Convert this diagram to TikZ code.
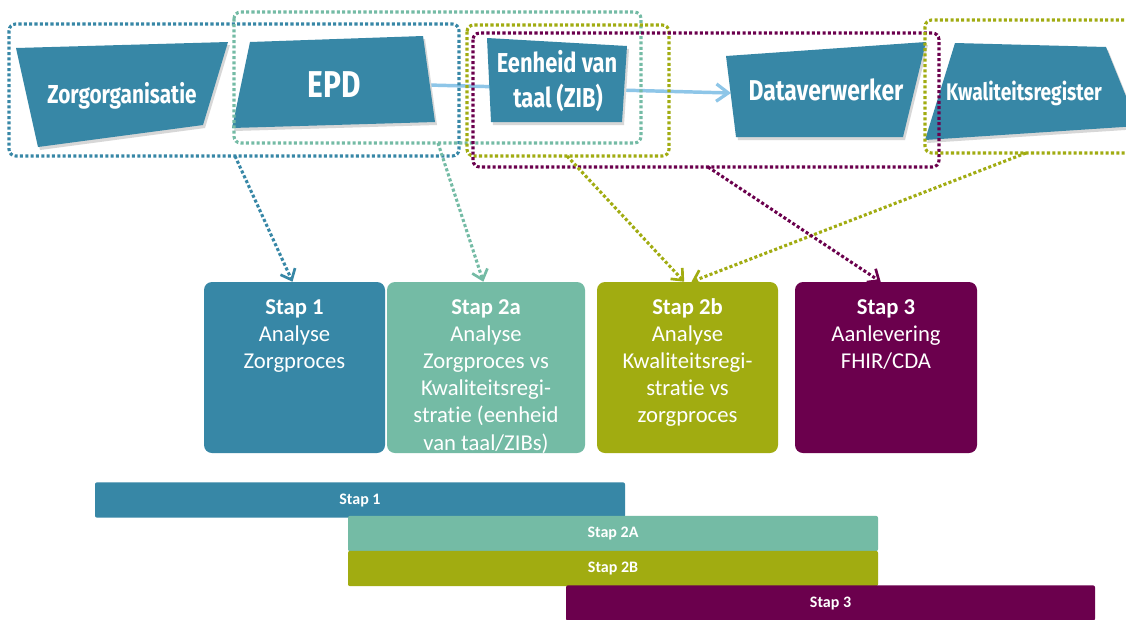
\documentclass[tikz,border=0pt]{standalone}
\usepackage{fontspec}
\setmainfont{Carlito}[Ligatures=NoCommon]
\newfontfamily\condfont{Fira Sans}[FakeStretch=0.8]
\usetikzlibrary{arrows.meta}
\definecolor{cBlue}{RGB}{55,135,166}
\definecolor{cTeal}{RGB}{116,187,165}
\definecolor{cOlive}{RGB}{161,172,17}
\definecolor{cPurple}{RGB}{107,0,77}
\definecolor{cLight}{RGB}{142,198,232}
\definecolor{cShadow}{RGB}{215,215,215}
\begin{document}
\begin{tikzpicture}[x=0.75pt,y=-0.75pt,
  toplabel/.style={text=white, inner sep=0pt, anchor=base},
  dotbox/.style={line width=2.3pt, dash pattern=on 2.3pt off 1.7pt, rounded corners=5pt},
  dotarrow/.style={line width=2.3pt, dash pattern=on 2.3pt off 1.7pt,
    -{Straight Barb[length=7pt,width=12pt,line width=2pt]}},
  flowarrow/.style={draw=cLight, line width=2.6pt,
    -{Straight Barb[length=9pt,width=13pt,line width=2.4pt]}},
  stepbox/.style={rounded corners=6pt, minimum height=128.25pt, inner sep=0pt, draw=none},
  steptext/.style={text=white, align=center, inner sep=0pt, anchor=north,
    font=\fontsize{17}{20.4}\selectfont},
  barbox/.style={rounded corners=1.5pt, minimum height=26.5pt, inner sep=0pt,
    text=white, font=\fontsize{12}{14}\selectfont\bfseries},
]
\clip (0,0) rectangle (1126,619);
\fill[white] (0,0) rectangle (1126,619);

% flow arrow (behind the shapes)
\coordinate (flowStart) at (428,85);
\coordinate (flowEnd) at (731,93);
\draw[flowarrow] (flowStart) -- (flowEnd);

% shadows
\begin{scope}[shift={(2,3)}]
\fill[cShadow] (16,48) -- (228,42) -- (203,125) -- (38,147) -- cycle;
\fill[cShadow] (250,42) -- (423,36) -- (435,122) -- (232,128) -- cycle;
\fill[cShadow] (487,38) -- (627,46) -- (622,122) -- (491,122) -- cycle;
\fill[cShadow] (726,56) -- (926,42) -- (903,137) -- (736,137) -- cycle;
\fill[cShadow] (955,43) -- (1106,47) -- (1138,126) -- (925,140) -- cycle;
\end{scope}
% shapes
\fill[cBlue] (16,48) -- (228,42) -- (203,125) -- (38,147) -- cycle;
\fill[cBlue] (250,42) -- (423,36) -- (435,122) -- (232,128) -- cycle;
\fill[cBlue] (487,38) -- (627,46) -- (622,122) -- (491,122) -- cycle;
\fill[cBlue] (726,56) -- (926,42) -- (903,137) -- (736,137) -- cycle;
\fill[cBlue] (955,43) -- (1106,47) -- (1138,126) -- (925,140) -- cycle;

\node[toplabel, font=\condfont\bfseries\fontsize{19.5}{22}\selectfont] (zorg) at (122,103) {Zorgorganisatie};
\node[toplabel, font=\condfont\bfseries\fontsize{28}{32}\selectfont] (epd) at (334,97) {EPD};
\node[toplabel, font=\condfont\bfseries\fontsize{20.5}{24}\selectfont] (zibA) at (557,72) {Eenheid van};
\node[toplabel, font=\condfont\bfseries\fontsize{20.5}{24}\selectfont] (zibB) at (558,107) {taal (ZIB)};
\node[toplabel, font=\condfont\bfseries\fontsize{21.5}{24}\selectfont] (dv) at (826,100) {Dataverwerker};
\node[toplabel, font=\condfont\bfseries\fontsize{18}{22}\selectfont] (kr) at (1024,100) {Kwaliteitsregister};

% dotted grouping boxes
\draw[dotbox, cBlue] (9,24) rectangle (459,156);
\draw[dotbox, cTeal] (234,12) rectangle (641,143);
\draw[dotbox, cOlive] (467,25) rectangle (669,156);
\draw[dotbox, cPurple] (473,33) rectangle (939,167);
\draw[dotbox, cOlive] (925,20) rectangle (1150,153);

% step boxes
\node[stepbox, fill=cBlue, minimum width=135.75pt] (s1) at (294.5,367.5) {};
\node[stepbox, fill=cTeal, minimum width=148.5pt] (s2a) at (486,367.5) {};
\node[stepbox, fill=cOlive, minimum width=135.75pt] (s2b) at (687.5,367.5) {};
\node[stepbox, fill=cPurple, minimum width=136.5pt] (s3) at (886,367.5) {};

\node[steptext] (t1) at ([yshift=-9.75pt]s1.north) {\strut\textbf{Stap 1}\\Analyse\\Zorgproces};
\node[steptext] (t2a) at ([yshift=-9.75pt]s2a.north) {\strut\textbf{Stap 2a}\\Analyse\\Zorgproces vs\\Kwaliteitsregi-\\stratie (eenheid\\van taal/ZIBs)};
\node[steptext] (t2b) at ([yshift=-9.75pt]s2b.north) {\strut\textbf{Stap 2b}\\Analyse\\Kwaliteitsregi-\\stratie vs\\zorgproces};
\node[steptext] (t3) at ([yshift=-9.75pt]s3.north) {\strut\textbf{Stap 3}\\Aanlevering\\FHIR/CDA};

% dotted arrows
\coordinate (aBlue) at (235,156);
\coordinate (aTeal) at (438,143);
\coordinate (aOliveA) at (567,156);
\coordinate (aOliveB) at (1026,153);
\coordinate (aPurple) at (708,167);
\draw[dotarrow, cBlue] (aBlue) -- ([xshift=-1.5pt]s1.north);
\draw[dotarrow, cTeal] (aTeal) -- ([xshift=-2pt]s2a.north);
\draw[dotarrow, cOlive] (aOliveA) -- ([xshift=-2.5pt]s2b.north);
\draw[dotarrow, cOlive] (aOliveB) -- ([xshift=3pt]s2b.north);
\draw[dotarrow, cPurple] (aPurple) -- ([xshift=-4pt]s3.north);

% timeline bars
\node[barbox, fill=cBlue, minimum width=397.5pt] (bar1) at (360,500) {Stap 1};
\node[barbox, fill=cTeal, minimum width=397.5pt] (bar2a) at (613,533.5) {Stap 2A};
\node[barbox, fill=cOlive, minimum width=397.5pt] (bar2b) at (613,568.5) {Stap 2B};
\node[barbox, fill=cPurple, minimum width=396.75pt] (bar3) at (830.5,603) {Stap 3};
\end{tikzpicture}
\end{document}
